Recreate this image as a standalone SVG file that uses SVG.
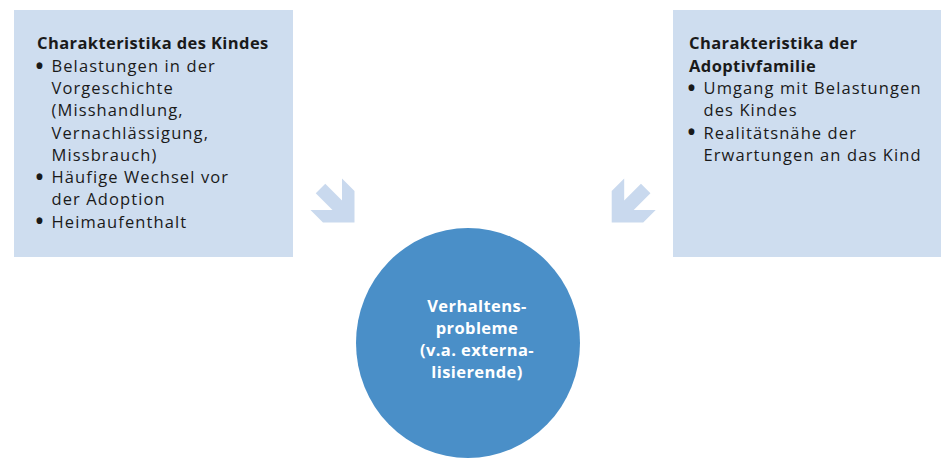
<svg xmlns="http://www.w3.org/2000/svg" width="943" height="459" viewBox="0 0 943 459">
<style>
.box{fill:#CEDDEF}
.arrow{fill:#C9D9EE}
.t{font-family:"Open Sans","Noto Sans","Liberation Sans",sans-serif;font-size:16.5px;letter-spacing:1.1px;fill:#1a1a1a}
.b{font-weight:bold;letter-spacing:0.4px}
.d{font-family:"Open Sans","Noto Sans","Liberation Sans",sans-serif;font-size:21px;font-weight:bold;fill:#1a1a1a}
.c{font-family:"Open Sans","Noto Sans","Liberation Sans",sans-serif;font-size:16.5px;letter-spacing:0.4px;font-weight:bold;fill:#ffffff;text-anchor:middle}
</style>
<rect width="943" height="459" fill="#ffffff"/>
<g id="kind">
<rect class="box" x="14" y="10" width="279" height="247"/>
<text class="t b" x="37" y="49.3">Charakteristika des Kindes</text>
<text class="d" x="35.5" y="73.5">•</text><text class="t" x="51.5" y="71.7">Belastungen in der</text>
<text class="t" x="51.5" y="94">Vorgeschichte</text>
<text class="t" x="51.5" y="116.2">(Misshandlung,</text>
<text class="t" x="51.5" y="138.5">Vernachlässigung,</text>
<text class="t" x="51.5" y="160.7">Missbrauch)</text>
<text class="d" x="35.5" y="184.8">•</text><text class="t" x="51.5" y="183">Häufige Wechsel vor</text>
<text class="t" x="51.5" y="205.2">der Adoption</text>
<text class="d" x="35.5" y="229.3">•</text><text class="t" x="51.5" y="227.5">Heimaufenthalt</text>
</g>
<g id="familie">
<rect class="box" x="673" y="10" width="268" height="247"/>
<text class="t b" x="689" y="49.3">Charakteristika der</text>
<text class="t b" x="689" y="71.7">Adoptivfamilie</text>
<text class="d" x="687.5" y="95.8">•</text><text class="t" x="703.5" y="94">Umgang mit Belastungen</text>
<text class="t" x="703.5" y="116.2">des Kindes</text>
<text class="d" x="687.5" y="140.3">•</text><text class="t" x="703.5" y="138.5">Realitätsnähe der</text>
<text class="t" x="703.5" y="160.7">Erwartungen an das Kind</text>
</g>
<g id="verhalten">
<ellipse cx="468" cy="343" rx="112" ry="115" fill="#4A8FC8"/>
<text class="c" x="477" y="311.7">Verhaltens-</text>
<text class="c" x="477" y="333.5">probleme</text>
<text class="c" x="477" y="355.7">(v.a. externa-</text>
<text class="c" x="477" y="377.5">lisierende)</text>
</g>
<g id="connectors">
<polygon class="arrow" points="325.25,183.75 342,200.5 342,178.5 354.5,191 354.5,222.5 323,222.5 310.5,210 332.5,210 315.75,193.25"/>
<polygon class="arrow" transform="translate(966.2,0) scale(-1,1)" points="325.25,183.75 342,200.5 342,178.5 354.5,191 354.5,222.5 323,222.5 310.5,210 332.5,210 315.75,193.25"/>
</g>
</svg>
